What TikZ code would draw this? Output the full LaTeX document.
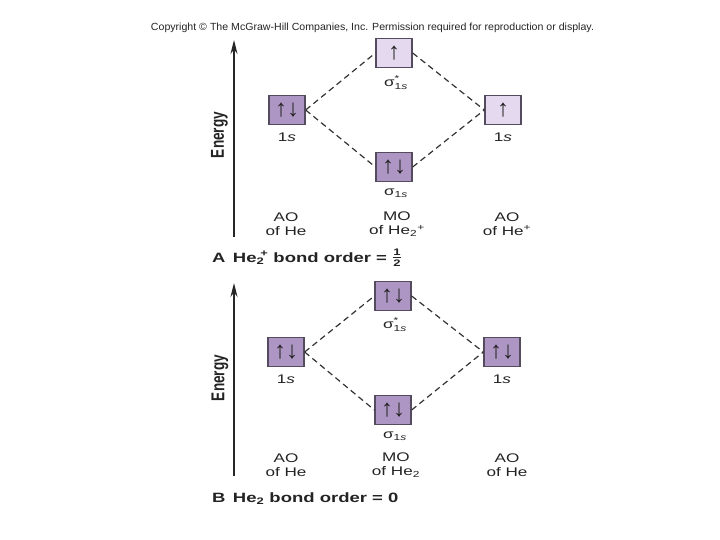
\documentclass[tikz,border=0pt]{standalone}
\usepackage{fontspec}
\usepackage{amsmath}
\setmainfont{Liberation Sans}[FakeStretch=1.37]
\newfontfamily\plainsf{Liberation Sans}
\usetikzlibrary{arrows.meta}
\definecolor{dk}{RGB}{174,150,196}
\definecolor{lt}{RGB}{228,217,238}
\definecolor{bd}{RGB}{85,75,95}
\definecolor{tx}{RGB}{35,35,35}
\newcommand{\hfrac}{\raisebox{0.5pt}{$\genfrac{}{}{1pt}{1}{\text{\fontsize{9.5}{10}\selectfont\bfseries 1}}{\text{\fontsize{9.5}{10}\selectfont\bfseries 2}}$}}
\begin{document}
\begin{tikzpicture}[x=1pt,y=-1pt,
  mo/.style={draw=bd, line width=1.3pt, minimum width=36pt, minimum height=29pt, inner sep=0pt, text=tx, font=\plainsf\fontsize{24}{24}\selectfont},
  dkbox/.style={mo, fill=dk},
  ltbox/.style={mo, fill=lt},
  lbl/.style={font=\fontsize{12.5}{14}\selectfont, text=tx, inner sep=0pt, align=center},
  sig/.style={font=\fontsize{12.5}{14}\selectfont, text=tx, inner sep=0pt},
  ttl/.style={font=\fontsize{13.5}{14}\selectfont\bfseries, text=tx, inner sep=0pt, anchor=base west},
  conn/.style={dash pattern=on 6pt off 4pt, line width=1.2pt, draw=black!80},
  energy/.style={-{Stealth[length=14pt,width=7pt]}, line width=1.5pt, draw=black!85},
  elbl/.style={rotate=90, inner sep=0pt, text=tx, font=\plainsf\fontsize{13.6}{14}\selectfont\bfseries}]
\useasboundingbox (0,0) rectangle (720,540);
\node[anchor=base, inner sep=0pt, text=tx] (copy) at (372.5,31) {\resizebox{443pt}{7.5pt}{\plainsf Copyright \textcopyright\ The McGraw-Hill Companies, Inc. Permission required for reproduction or display.}};
% ---------- Panel A ----------
\coordinate (ea0) at (234,237);
\coordinate (ea1) at (234,40);
\draw[energy] (ea0) -- (ea1);
\node[elbl] (enA) at (219.5,135) {\scalebox{1}[1.37]{Energy}};
\node[dkbox] (aL) at (287,110) {↑↓};
\node[ltbox] (aSs) at (394,53) {↑};
\node[dkbox] (aS) at (394,167) {↑↓};
\node[ltbox] (aR) at (503,110) {↑};
\draw[conn] (aL.east) -- (aSs.west);
\draw[conn] (aL.east) -- (aS.west);
\draw[conn] (aSs.east) -- (aR.west);
\draw[conn] (aS.east) -- (aR.west);
\node[lbl] (aLl) at (287,137) {1\textit{s}};
\node[lbl] (aRl) at (503,137) {1\textit{s}};
\node[sig] (aSsl) at (396,83) {σ$^{\text{*}}_{\text{1\textit{s}}}$};
\node[sig] (aSl) at (396,193) {σ$_{\text{1\textit{s}}}$};
\node[lbl] (aAO1) at (286,224) {AO\\of He};
\node[lbl] (aMO) at (397,224) {MO\\of He\textsubscript{2}\textsuperscript{+}};
\node[lbl] (aAO2) at (507,224) {AO\\of He\textsuperscript{+}};
\node[ttl] (aT) at (212,262) {A\hspace{0.55em}He\textsubscript{2}\kern-0.3em\textsuperscript{+} bond order = \hfrac};
% ---------- Panel B ----------
\coordinate (eb0) at (234,476);
\coordinate (eb1) at (234,283);
\draw[energy] (eb0) -- (eb1);
\node[elbl] (enB) at (220,378) {\scalebox{1}[1.37]{Energy}};
\node[dkbox] (bL) at (286,352) {↑↓};
\node[dkbox] (bSs) at (393,296) {↑↓};
\node[dkbox] (bS) at (393,410) {↑↓};
\node[dkbox] (bR) at (502,352) {↑↓};
\draw[conn] (bL.east) -- (bSs.west);
\draw[conn] (bL.east) -- (bS.west);
\draw[conn] (bSs.east) -- (bR.west);
\draw[conn] (bS.east) -- (bR.west);
\node[lbl] (bLl) at (286,379) {1\textit{s}};
\node[lbl] (bRl) at (502,379) {1\textit{s}};
\node[sig] (bSsl) at (395,325) {σ$^{\text{*}}_{\text{1\textit{s}}}$};
\node[sig] (bSl) at (395,436) {σ$_{\text{1\textit{s}}}$};
\node[lbl] (bAO1) at (286,465) {AO\\of He};
\node[lbl] (bMO) at (396,465) {MO\\of He\textsubscript{2}};
\node[lbl] (bAO2) at (507,465) {AO\\of He};
\node[ttl] (bT) at (212,502) {B\hspace{0.55em}He\textsubscript{2} bond order = 0};
\end{tikzpicture}
\end{document}
